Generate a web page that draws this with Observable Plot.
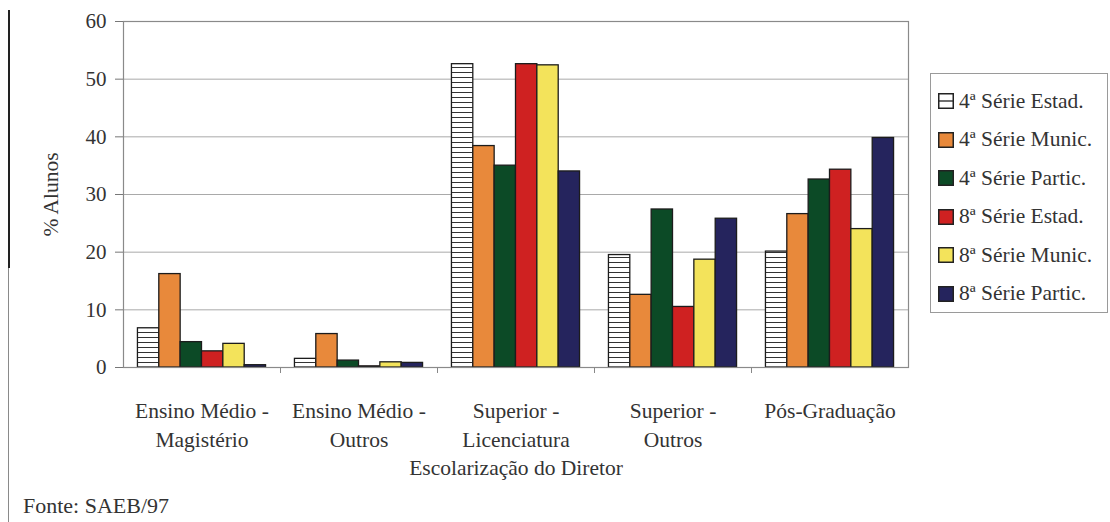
<!DOCTYPE html>
<html>
<head>
<meta charset="utf-8">
<script src="https://cdn.jsdelivr.net/npm/d3@7"></script>
<script src="https://cdn.jsdelivr.net/npm/@observablehq/plot@0.6"></script>
<style>
  html, body { margin: 0; padding: 0; background: #fff; }
  #quadro { position: relative; width: 1110px; height: 522px; overflow: hidden;
            font-family: "Liberation Serif", "DejaVu Serif", serif; color: #333; }
  #grafico { position: absolute; left: 0; top: 0; }
  #legenda { position: absolute; left: 930px; top: 73px; width: 178px; height: 240px;
             border: 1px solid #9a9a9a; box-sizing: border-box; padding-top: 8px; }
  .item { display: flex; align-items: center; height: 38.5px; font-size: 21.5px; white-space: nowrap; }
  .item svg { margin-left: 7px; margin-right: 5px; flex: none; }
  #fonte { position: absolute; left: 23px; top: 495px; font-size: 22px; line-height: 22px; }
  .margem { position: absolute; left: 8px; }
</style>
</head>
<body>
<div id="quadro">
  <div class="margem" style="top:10px;width:2px;height:258px;background:#222"></div>
  <div class="margem" style="top:268px;width:1px;height:254px;background:#8a8a8a"></div>
  <div id="grafico"></div>
  <div id="legenda"></div>
  <div id="fonte">Fonte: SAEB/97</div>
</div>
<script>
// Escolarização do diretor: categorias do eixo x
const categorias = [
  "Ensino Médio -\nMagistério",
  "Ensino Médio -\nOutros",
  "Superior -\nLicenciatura",
  "Superior -\nOutros",
  "Pós-Graduação"
];

// Séries (série escolar e dependência administrativa)
const series = [
  "4ª Série Estad.",
  "4ª Série Munic.",
  "4ª Série Partic.",
  "8ª Série Estad.",
  "8ª Série Munic.",
  "8ª Série Partic."
];

// % de alunos por categoria, uma lista por série
const serie4Estad  = [6.8, 1.5, 52.6, 19.5, 20.1];
const serie4Munic  = [16.2, 5.8, 38.4, 12.6, 26.6];
const serie4Partic = [4.4, 1.2, 35.0, 27.4, 32.6];
const serie8Estad  = [2.8, 0.2, 52.6, 10.5, 34.3];
const serie8Munic  = [4.1, 0.9, 52.4, 18.7, 24.0];
const serie8Partic = [0.4, 0.8, 34.0, 25.8, 39.8];

// Marcas do eixo y
const yTicks = [0, 10, 20, 30, 40, 50, 60];

// Cores das séries (a primeira é hachurada)
const cores = ["url(#listras)", "#e8893b", "#0c4a26", "#cf2121", "#f3e35b", "#25245d"];

const valores = [serie4Estad, serie4Munic, serie4Partic, serie8Estad, serie8Munic, serie8Partic];
const tabela = series.flatMap((serie, s) =>
  valores[s].map((valor, g) => ({grupo: g, ordem: s, serie, valor}))
);

// Largura de cada barra, em unidades de grupo
const larguraBarra = 0.136;
const inicio = d => d.grupo + (d.ordem - series.length / 2) * larguraBarra;
const fim = d => inicio(d) + larguraBarra;

const fontePrincipal = "'Liberation Serif', 'DejaVu Serif', serif";

const grafico = Plot.plot({
  width: 930,
  height: 480,
  marginLeft: 123,
  marginRight: 22,
  marginTop: 21,
  marginBottom: 113,
  style: {fontFamily: fontePrincipal, fontSize: "21px", color: "#333", background: "transparent", overflow: "visible"},
  x: {type: "linear", domain: [-0.5, categorias.length - 0.5], axis: null},
  y: {domain: [0, 60], axis: null},
  color: {domain: series, range: cores},
  marks: [
    Plot.ruleY(yTicks.slice(1, -1), {stroke: "#a9a9a9", strokeWidth: 1}),
    Plot.rectY(tabela, {x1: inicio, x2: fim, y1: 0, y2: "valor", fill: "serie", stroke: "#1c1c1c", strokeWidth: 1.3}),
    Plot.frame({stroke: "#8a8a8a", strokeWidth: 1.2}),
    Plot.axisY(yTicks, {tickSize: 8, tickPadding: 9, stroke: "#777", fontSize: 21, label: null}),
    Plot.axisX(d3.range(1, categorias.length).map(i => i - 0.5),
      {tickSize: 6, tickFormat: () => "", stroke: "#888", label: null}),
    Plot.axisX(d3.range(categorias.length),
      {tickSize: 0, tickPadding: 29, tickFormat: i => categorias[i], lineHeight: 1.38, fontSize: 21.5, label: null}),
    Plot.text(["% Alunos"], {frameAnchor: "left", dx: -72, rotate: -90, textAnchor: "middle", fontSize: 21.5}),
    Plot.text(["Escolarização do Diretor"], {frameAnchor: "bottom", dy: 107, textAnchor: "middle", fontSize: 21.5})
  ]
});

// Hachura horizontal usada pela série "4ª Série Estad."
const svg = d3.select(grafico);
const padrao = svg.insert("defs", ":first-child").append("pattern")
  .attr("id", "listras").attr("patternUnits", "userSpaceOnUse")
  .attr("width", 8).attr("height", 5);
padrao.append("rect").attr("width", 8).attr("height", 5).attr("fill", "#fff");
padrao.append("line").attr("x1", 0).attr("x2", 8).attr("y1", 2.5).attr("y2", 2.5)
  .attr("stroke", "#333").attr("stroke-width", 1);

document.getElementById("grafico").appendChild(grafico);

// Legenda
const legenda = d3.select("#legenda");
series.forEach((serie, i) => {
  const item = legenda.append("div").attr("class", "item");
  const amostra = item.append("svg").attr("width", 16).attr("height", 16);
  amostra.append("rect").attr("x", 0.75).attr("y", 0.75).attr("width", 14.5).attr("height", 14.5)
    .attr("fill", i === 0 ? "#fff" : cores[i]).attr("stroke", "#222").attr("stroke-width", 1.5);
  if (i === 0) {
    amostra.append("line").attr("x1", 1).attr("x2", 15).attr("y1", 8).attr("y2", 8)
      .attr("stroke", "#222").attr("stroke-width", 1.3);
  }
  item.append("span").text(serie);
});
</script>
</body>
</html>
